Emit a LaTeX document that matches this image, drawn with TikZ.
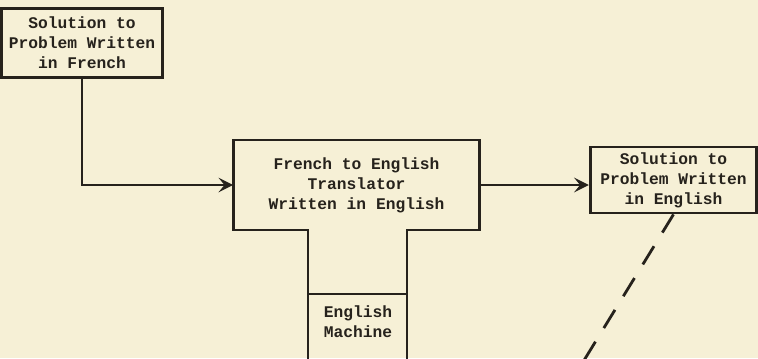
\documentclass[tikz,border=0pt]{standalone}
\usepackage{fontspec}
\setmainfont{Liberation Mono}
\usetikzlibrary{arrows.meta}
\definecolor{paper}{RGB}{246,240,214}
\definecolor{ink}{RGB}{38,34,28}
\begin{document}
\begin{tikzpicture}[x=0.75pt, y=-0.75pt, line width=2.1pt, draw=ink, text=ink,
                    font=\fontsize{12.2}{15}\bfseries\selectfont,
                    box/.style={draw, rectangle, align=center, inner sep=0pt},
                    arr/.style={-{Stealth[length=11pt, width=11pt, inset=4.5pt]}}]
                        \fill[paper] (0,0) rectangle (758,358);
                        \useasboundingbox (0,0) rectangle (758,358);
                        % boxes
                        \node[box, minimum width=121pt, minimum height=52pt] (fr) at (82,43) {Solution to\\Problem Written\\in French};
                        \node[align=center, minimum width=185pt, minimum height=67.5pt, inner sep=0pt, outer sep=0pt] (tr) at (356.5,185) {French to English\\Translator\\Written in English};
                        \node[box, minimum width=125pt, minimum height=49.5pt] (en) at (673.5,180) {Solution to\\Problem Written\\in English};
                        \node[align=center] (mc) at (358,322) {English\\Machine};
                        % the T shaped translator
                        \coordinate (sl) at (308,230);
                        \coordinate (sr) at (407,230);
                        \draw[line join=miter] (sl |- 0,364) -- (sl) -- (tr.south west) -- (tr.north west) -- (tr.north east) -- (tr.south east) -- (sr) -- (sr |- 0,364);
                        \draw (308,294) -- (407,294);
                        % connectors
                        \draw[arr] (fr.south) |- (tr.west);
                        \draw[arr] (tr.east) -- (tr.east -| en.west);
                        \coordinate (dend) at (583,362);
                        \draw[dash pattern=on 16pt off 12pt] (en.south) -- (dend);
                    \end{tikzpicture}
\end{document}
